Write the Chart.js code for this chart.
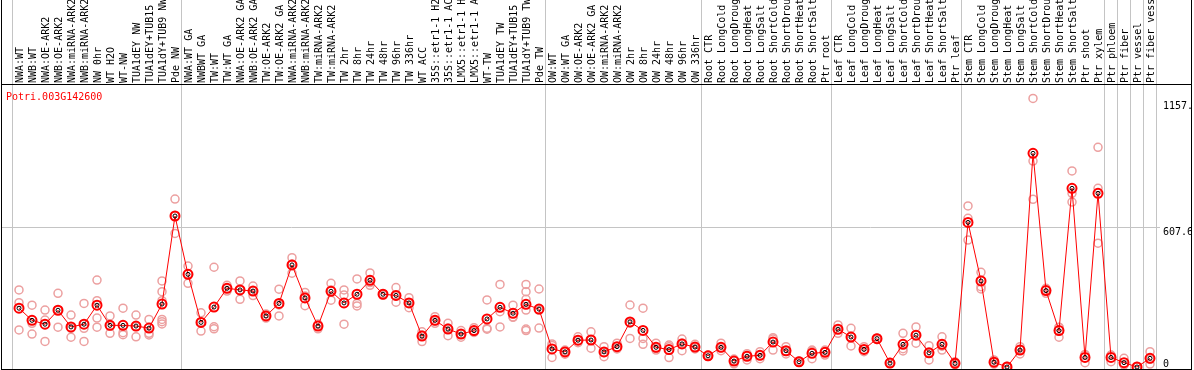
<!DOCTYPE html>
<html>
<head>
<meta charset="utf-8">
<script src="https://cdn.jsdelivr.net/npm/chart.js@4.4.1/dist/chart.umd.min.js"></script>
<style>
  html, body { margin: 0; padding: 0; background: #fff; }
  canvas { display: block; }
</style>
</head>
<body>
<canvas id="expChart" width="1194" height="370"></canvas>
<script>
const geneName = 'Potri.003G142600';

const samples = [
  'NWA:WT', 'NWB:WT', 'NWA:OE-ARK2', 'NWB:OE-ARK2', 'NWA:miRNA-ARK2', 'NWB:miRNA-ARK2',
  'NW 0hr', 'WT H2O', 'WT-NW', 'TUA1dEY NW', 'TUA1dEY+TUB15 NW', 'TUA1dY+TUB9 NW', 'Pde NW',
  'NWA:WT GA', 'NWBWT GA', 'TW:WT', 'TW:WT GA', 'NWA:OE-ARK2 GA', 'NWB:OE-ARK2 GA',
  'TW:OE-ARK2', 'TW:OE-ARK2 GA', 'NWA:miRNA-ARK2 GA', 'NWB:miRNA-ARK2 GA', 'TW:miRNA-ARK2',
  'TW:miRNA-ARK2 GA', 'TW 2hr', 'TW 8hr', 'TW 24hr', 'TW 48hr', 'TW 96hr', 'TW 336hr',
  'WT ACC', '35S::etr1-1 H2O', '35S::etr1-1 ACC', 'LMX5::etr1-1 H2O', 'LMX5::etr1-1 ACC',
  'WT-TW', 'TUA1dEY TW', 'TUA1dEY+TUB15 TW', 'TUA1dY+TUB9 TW', 'Pde TW',
  'OW:WT', 'OW:WT GA', 'OW:OE-ARK2', 'OW:OE-ARK2 GA', 'OW:miRNA-ARK2', 'OW:miRNA-ARK2 GA',
  'OW 2hr', 'OW 8hr', 'OW 24hr', 'OW 48hr', 'OW 96hr', 'OW 336hr',
  'Root CTR', 'Root LongCold', 'Root LongDrought', 'Root LongHeat', 'Root LongSalt',
  'Root ShortCold', 'Root ShortDrought', 'Root ShortHeat', 'Root ShortSalt', 'Ptr root',
  'Leaf CTR', 'Leaf LongCold', 'Leaf LongDrought', 'Leaf LongHeat', 'Leaf LongSalt',
  'Leaf ShortCold', 'Leaf ShortDrought', 'Leaf ShortHeat', 'Leaf ShortSalt', 'Ptr leaf',
  'Stem CTR', 'Stem LongCold', 'Stem LongDrought', 'Stem LongHeat', 'Stem LongSalt',
  'Stem ShortCold', 'Stem ShortDrought', 'Stem ShortHeat', 'Stem ShortSalt', 'Ptr shoot',
  'Ptr xylem', 'Ptr phloem', 'Ptr fiber', 'Ptr vessel', 'Ptr fiber vessel'
];

const meanValues = [
  257, 204, 187, 248, 175, 187, 270, 182, 182, 179, 170, 275, 660,
  405, 195, 262, 344, 337, 332, 223, 278, 446, 302, 179, 331, 280, 318, 379, 318, 313, 280,
  135, 204, 166, 144, 159, 210, 261, 235, 274, 253,
  79, 66, 117, 118, 66, 89, 197, 160, 86, 76, 101, 87,
  49, 86, 26, 47, 51, 109, 71, 23, 60, 64,
  165, 131, 77, 124, 17, 99, 139, 62, 99, 16,
  632, 376, 21, 0, 74, 934, 334, 159, 781, 42,
  759, 42, 19, 0, 38
];

const replicateValues = [
  [337, 281, 162], [270, 191, 144], [249, 205, 112], [322, 248, 174], [227, 169, 130],
  [278, 169, 112], [380, 290, 214, 174], [223, 147, 179], [257, 150, 141], [227, 132, 177],
  [208, 147, 140], [376, 329, 290, 208, 198, 188], [734, 660, 584],
  [441, 366, 406], [237, 157, 197], [436, 176, 167], [357, 332, 343], [376, 296, 337],
  [354, 312, 332], [232, 214, 223], [340, 223, 271], [478, 410, 450], [326, 268, 310],
  [167, 188, 184], [366, 292, 337], [337, 315, 187], [385, 278, 267], [411, 357, 369],
  [320, 315, 319], [347, 283, 310], [303, 259, 280], [154, 111, 140], [220, 191, 201],
  [191, 137, 170], [159, 130, 144], [172, 154, 151], [293, 169, 165], [361, 242, 175],
  [270, 217, 219], [361, 329, 296, 249, 166, 159], [341, 170, 249],
  [101, 42, 94], [74, 56, 68], [132, 106, 116], [154, 82, 118], [89, 45, 63], [104, 79, 83],
  [271, 125, 192], [257, 125, 99], [104, 74, 81], [89, 41, 96], [122, 71, 105], [99, 79, 85],
  [52, 46, 50], [104, 71, 83], [35, 14, 28], [58, 31, 50], [67, 36, 50], [128, 74, 122],
  [89, 57, 68], [26, 20, 23], [70, 36, 74], [74, 52, 66],
  [184, 147, 164], [169, 92, 131], [89, 67, 76], [127, 120, 124], [20, 15, 17], [147, 70, 80],
  [175, 104, 140], [93, 31, 61], [132, 74, 91], [17, 11, 23],
  [704, 650, 555], [414, 351, 341], [22, 13, 31], [0, 3, 0], [89, 57, 76], [1174, 900, 733],
  [344, 322, 336], [174, 130, 173], [857, 759, 721], [52, 19, 55],
  [960, 781, 541], [52, 23, 51], [38, 9, 10], [0, 2, 0], [67, 13, 34]
];

const groupBreaks = [-0.5, 12.5, 40.5, 52.5, 62.5, 72.5, 83.5, 84.5, 85.5, 86.5, 87.5];
const yTickValues = [0, 607.6, 1157.9];
const yTickLabels = ['0', '607.6', '1157.9'];

const monoFamily = "'DejaVu Sans Mono', monospace";

const replicatePoints = [];
replicateValues.forEach((reps, i) => {
  reps.forEach(v => replicatePoints.push({ x: i, y: v }));
});
const meanPoints = meanValues.map((v, i) => ({ x: i, y: v }));

// scales should not reserve extra room for overhanging labels
function noPadding(s) {
  s.paddingLeft = 0;
  s.paddingRight = 0;
  s.paddingTop = 0;
  s.paddingBottom = 0;
}

// outer frame, header rule and the gene name in the top-left corner
const framePlugin = {
  id: 'frame',
  afterDraw(chart) {
    const c = chart.ctx;
    c.save();
    c.fillStyle = '#000';
    c.fillRect(1, 0, 1, 370);
    c.fillRect(1191, 0, 1, 370);
    c.fillRect(1, 84, 1191, 1);
    c.fillRect(1, 369, 1191, 1);
    c.fillStyle = '#ff0000';
    c.font = '10px ' + monoFamily;
    c.textBaseline = 'middle';
    c.textAlign = 'left';
    c.fillText(geneName, 6, 97);
    c.restore();
  }
};

const ctx = document.getElementById('expChart').getContext('2d');
new Chart(ctx, {
  type: 'line',
  data: {
    datasets: [
      {
        label: 'replicates',
        data: replicatePoints,
        showLine: false,
        pointRadius: 4,
        pointBorderWidth: 1.5,
        pointBorderColor: '#eca0a0',
        pointBackgroundColor: 'rgba(0,0,0,0)',
        order: 3
      },
      {
        label: 'mean',
        data: meanPoints,
        borderColor: '#ff0000',
        borderWidth: 1,
        pointRadius: 4.5,
        pointBorderWidth: 2,
        pointBorderColor: '#ff0000',
        pointBackgroundColor: 'rgba(0,0,0,0)',
        order: 2
      },
      {
        label: 'mean ring',
        data: meanPoints,
        showLine: false,
        pointRadius: 2,
        pointBorderWidth: 1,
        pointBorderColor: '#000',
        pointBackgroundColor: 'rgba(0,0,0,0)',
        order: 1
      }
    ]
  },
  options: {
    responsive: false,
    animation: false,
    devicePixelRatio: 1,
    layout: { autoPadding: false, padding: { left: 2, right: 2, top: 0, bottom: 1 } },
    plugins: {
      legend: { display: false },
      tooltip: { enabled: false }
    },
    scales: {
      x: {
        type: 'linear',
        position: 'top',
        min: -1.3077,
        max: 87.769,
        afterBuildTicks: s => {
          const t = samples.map((_, i) => ({ value: i }))
            .concat(groupBreaks.map(v => ({ value: v })));
          t.sort((a, b) => a.value - b.value);
          s.ticks = t;
        },
        afterFit: s => { s.height = 84; noPadding(s); },
        ticks: {
          autoSkip: false,
          minRotation: 90,
          maxRotation: 90,
          padding: -83,
          labelOffset: 13,
          color: '#000',
          font: { family: monoFamily, size: 10 },
          callback: v => Number.isInteger(v) ? samples[v] : ''
        },
        grid: {
          color: c => groupBreaks.includes(c.tick.value) ? '#c4c4c4' : 'rgba(0,0,0,0)',
          lineWidth: 1,
          tickLength: 84
        },
        border: { display: true, color: '#000' }
      },
      y: {
        position: 'right',
        min: -8.74,
        max: 1237,
        afterBuildTicks: s => { s.ticks = yTickValues.map(v => ({ value: v })); },
        afterFit: s => { s.width = 32; noPadding(s); },
        ticks: {
          padding: 3,
          labelOffset: 4,
          color: '#000',
          font: c => ({ family: monoFamily, size: 10, lineHeight: c.tick && c.tick.value === 0 ? 1.3 : 1.2 }),
          callback: v => {
            const label = yTickLabels[yTickValues.indexOf(v)];
            return v === 0 ? [label, ''] : label;
          }
        },
        grid: {
          color: c => c.tick.value === 607.6 ? '#c4c4c4' : 'rgba(0,0,0,0)',
          drawTicks: false
        },
        border: { display: false }
      }
    }
  },
  plugins: [framePlugin]
});
</script>
</body>
</html>
